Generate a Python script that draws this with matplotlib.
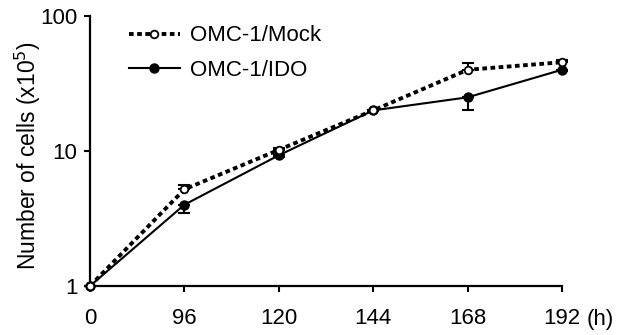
import numpy as np
import matplotlib
matplotlib.use("Agg")
import matplotlib.pyplot as plt
from matplotlib.ticker import NullLocator

plt.rcParams['font.family'] = ['Liberation Sans', 'DejaVu Sans']

# data (cells x10^5)
hours = ["0", "96", "120", "144", "168", "192"]
mock = [1.0, 5.2, 10.2, 20.0, 40.0, 45.5]
mock_err = [0.0, 0.4, 0.3, 0.3, 5.0, 1.5]
ido = [1.0, 4.0, 9.3, 20.0, 25.0, 40.0]
ido_err = [0.0, 0.5, 0.3, 0.3, 5.0, 1.0]

x = np.arange(len(hours))

fig = plt.figure(figsize=(6.36, 3.35), dpi=100)
ax = fig.add_axes([0.1415, 0.1463, 0.7421, 0.8057])

# one-sided error bars: mock up, IDO down
ax.errorbar(x, mock, yerr=[np.zeros(len(x)), mock_err], fmt="none",
            ecolor="black", elinewidth=1.5, capsize=4, capthick=1.5, zorder=2)
ax.errorbar(x, ido, yerr=[ido_err, np.zeros(len(x))], fmt="none",
            ecolor="black", elinewidth=1.5, capsize=4, capthick=1.5, zorder=2)

ax.plot(x, ido, "-", color="black", lw=1.5, marker="o", ms=6.5,
        mfc="black", mec="black", label="OMC-1/IDO", zorder=3)
ax.plot(x, mock, color="black", lw=2.8, ls=(0, (1.2, 0.9)), marker="o", ms=5.5,
        mfc="white", mec="black", mew=1.3, label="OMC-1/Mock", zorder=4)

ax.set_yscale("log")
ax.set_ylim(1, 100)
ax.set_xlim(0, 5)
ax.set_yticks([1, 10, 100])
ax.set_yticklabels(["1", "10", "100"])
ax.yaxis.set_minor_locator(NullLocator())
ax.set_xticks(x)
ax.set_xticklabels(hours)

for s in ["top", "right"]:
    ax.spines[s].set_visible(False)
for s in ["left", "bottom"]:
    ax.spines[s].set_linewidth(1.6)
ax.tick_params(axis="both", labelsize=16, width=1.5, length=4, direction="out")
ax.tick_params(axis="x", pad=12)
ax.tick_params(axis="y", pad=5)
ax.set_ylabel("Number of cells (x10$^5$)", fontsize=16.5)
ax.yaxis.set_label_coords(-0.10, 0.485)
ax.text(5.26, -0.125, "(h)", transform=ax.get_xaxis_transform(),
        fontsize=16, ha="left", va="center")

for sp in ax.spines.values():
    sp.set_clip_on(False)
for ln in ax.lines:
    ln.set_clip_on(False)

h, l = ax.get_legend_handles_labels()
ax.legend(h[::-1], l[::-1], loc="upper left", bbox_to_anchor=(0.04, 1.04),
          frameon=False, fontsize=16, handlelength=2.3, handletextpad=0.45,
          labelspacing=0.6)

fig.savefig("out.png", dpi=100)
